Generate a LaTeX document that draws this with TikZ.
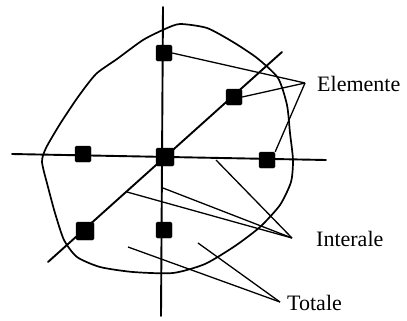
\documentclass[tikz,border=0pt]{standalone}
\usepackage{fontspec}
\setmainfont{Liberation Serif}
\begin{document}
\begin{tikzpicture}[x=1bp,y=-1bp,
  axis/.style={line width=1.9bp,line cap=round},
  outline/.style={line width=1.7bp,line join=round},
  leader/.style={line width=1.3bp},
  elem/.style={fill=black,draw=black,rounded corners=1.5bp,minimum size=16bp,inner sep=0pt},
  lbl/.style={font=\fontsize{22bp}{24bp}\selectfont,inner sep=0pt,anchor=west}]
\useasboundingbox (0,0) rectangle (407,321);
% outline
\draw[outline] plot[smooth cycle,tension=0.4] coordinates {
 (165,29) (180,24) (207,28) (233,42) (257,58) (278,78) (287,105) (290,133)
 (293,160) (291,182) (280,205) (260,227) (235,246) (205,264) (173,273)
 (133,272) (100,267) (77,257) (64,240) (55,213) (48,187) (42,162)
 (46,148) (60,124) (78,97) (96,74) (117,59) (143,40)};
% axes
\coordinate (vt) at (163,7);
\coordinate (vb) at (161,316);
\coordinate (hl) at (12,154);
\coordinate (hr) at (326,160);
\coordinate (dl) at (48,262);
\coordinate (dr) at (282,52);
\draw[axis] (vt) -- (vb);
\draw[axis] (hl) -- (hr);
\draw[axis] (dl) -- (dr);
% elements
\node[elem] (e1) at (164,53) {};
\node[elem] (e2) at (234,97) {};
\node[elem] (e3) at (83,154) {};
\node[elem,minimum size=18bp] (e4) at (165,157) {};
\node[elem] (e5) at (267,160) {};
\node[elem,minimum size=18bp] (e6) at (85,231) {};
\node[elem] (e7) at (164,230) {};
% labels
\coordinate (pe) at (305,83);
\coordinate (pi) at (292,238);
\coordinate (pt) at (280,302);
\node[lbl] (le) at (317,84) {Elemente};
\node[lbl] (li) at (316,239) {Interale};
\node[lbl] (lt) at (287,303) {Totale};
% leaders to Elemente
\draw[leader] (e1.east) -- (pe);
\draw[leader] (e2.east) -- (pe);
\draw[leader] (e5.north east) -- (pe);
% leaders to Interale
\coordinate (i1) at (216,160);
\coordinate (i2) at (163,188);
\coordinate (i3) at (127,192);
\draw[leader] (i1) -- (pi);
\draw[leader] (i2) -- (pi);
\draw[leader] (i3) -- (pi);
% leaders to Totale
\coordinate (t1) at (128,247);
\coordinate (t2) at (198,243);
\draw[leader] (t1) -- (pt);
\draw[leader] (t2) -- (pt);
\end{tikzpicture}
\end{document}
